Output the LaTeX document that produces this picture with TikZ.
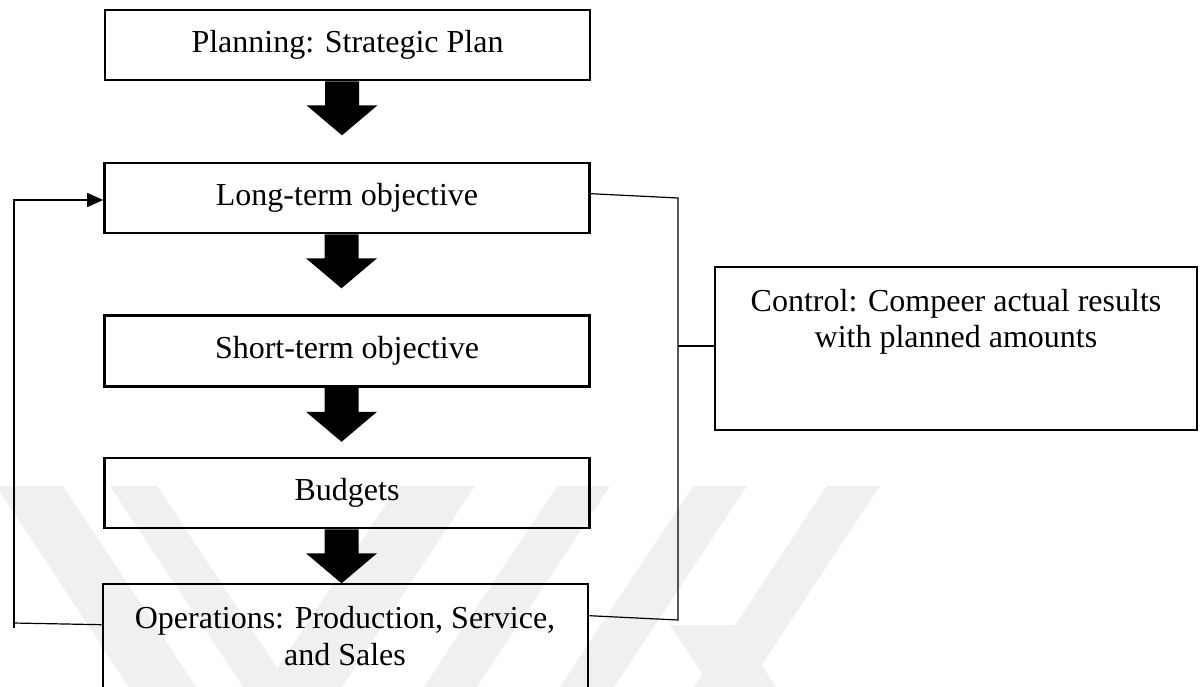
\documentclass[tikz,border=0pt]{standalone}
\usepackage{fontspec}
\setmainfont{Liberation Serif}
\usetikzlibrary{arrows.meta,calc}
\newcommand{\blkarrow}[1]{\fill ($(#1.south)+(-22.5,0)$) -- ++(0,24) -- ++(-18.5,0) -- ++(35.5,30) -- ++(35.5,-30) -- ++(-18.5,0) -- ++(0,-24) -- cycle;}
\begin{document}
\begin{tikzpicture}[x=1pt,y=-1pt,
  box/.style={draw,line width=2.6pt,rectangle,inner sep=0pt,minimum width=485pt,minimum height=70pt},
  conn/.style={line width=1.2pt},
  wm/.style={fill=black!6,draw=none},
  lbl/.style={font=\fontsize{32}{36.5}\selectfont,align=center,inner sep=0pt}]
\useasboundingbox (0,0) rectangle (1201,687);
\clip (0,0) rectangle (1201,687);
% watermark
\fill[wm] (-4,486) -- (63,486) -- (196,687) -- (129,687) -- cycle;
\fill[wm] (110,486) -- (157,486) -- (290,687) -- (243,687) -- cycle;
\fill[wm] (398,486) -- (475,486) -- (342,687) -- (265,687) -- cycle;
\fill[wm] (557,486) -- (610,486) -- (477,687) -- (424,687) -- cycle;
\fill[wm] (693,486) -- (747,486) -- (614,687) -- (560,687) -- cycle;
\fill[wm] (827,486) -- (880,486) -- (747,687) -- (694,687) -- cycle;
\fill[wm] (670,625) -- (735,625) -- (776,687) -- (711,687) -- cycle;
% boxes
\node[box,lbl] (plan) at (347.5,45) {Planning: Strategic Plan};
\node[box,lbl] (long) at (347,198) {Long-term objective};
\node[box,lbl,minimum height=71pt] (short) at (347,351) {Short-term objective};
\node[box,lbl] (budg) at (347,493) {Budgets};
\node[box,minimum height=136pt] (ops) at (345.5,652) {};
\node[lbl] (opst) at (345,636) {Operations: Production, Service,\\and Sales};
\node[box,minimum width=482pt,minimum height=163pt] (ctrl) at (956,348.5) {};
\node[lbl] (ctrlt) at (956,322) {Control: Compeer actual results\\with planned amounts};
% block arrows
\blkarrow{plan}
\blkarrow{long}
\blkarrow{short}
\blkarrow{budg}
% feedback connectors
\coordinate (lbot) at (13,623);
\coordinate (ltail) at (14,628);
\coordinate (ltop) at (14,200);
\draw[conn] ($(ops.north west)+(0,42)$) -- (lbot);
\draw[conn,-{Triangle[length=16pt,width=14pt]}] (ltail) -- (ltop) -- (ltop -| long.west);
\coordinate (rtop) at (678,198);
\coordinate (rbot) at (678,620);
\coordinate (rmid) at (678,346);
\draw[conn] ($(long.north east)+(0,32)$) -- (rtop) -- (rbot) -- ($(ops.north east)+(0,33)$);
\draw[conn] (rmid) -- (rmid -| ctrl.west);
\end{tikzpicture}
\end{document}
